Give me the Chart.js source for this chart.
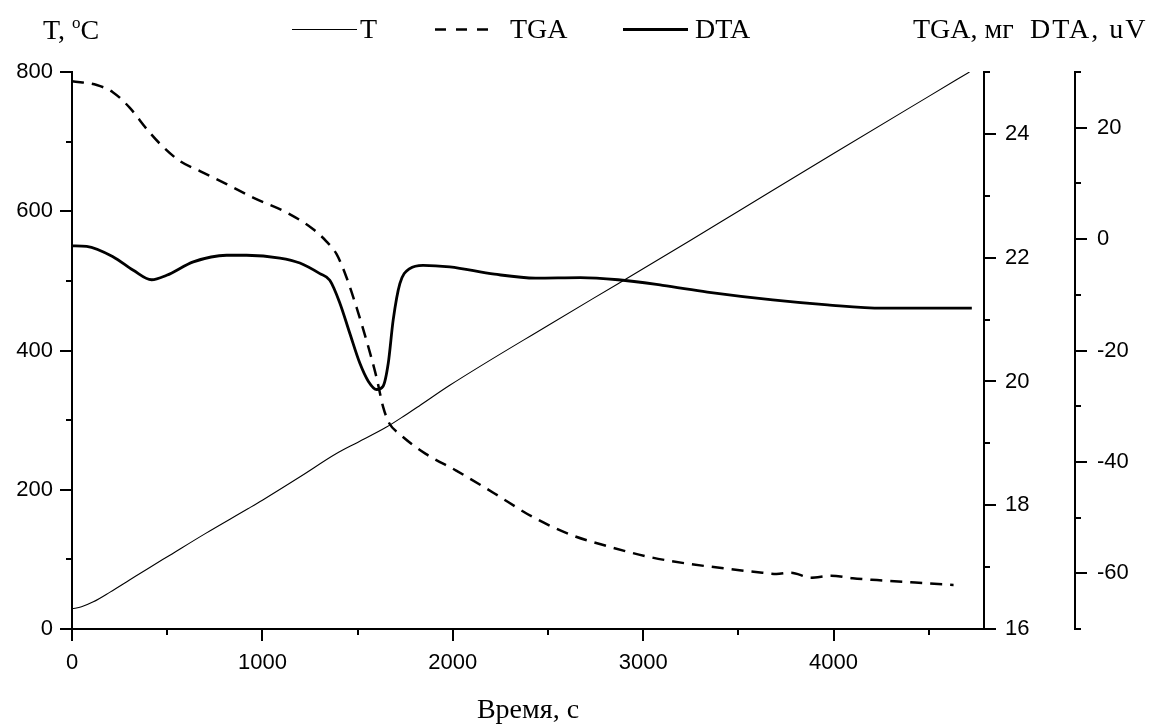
<!DOCTYPE html>
<html>
<head>
<meta charset="utf-8">
<script src="https://cdn.jsdelivr.net/npm/chart.js@4.4.1/dist/chart.umd.min.js"></script>
<style>
html,body{margin:0;padding:0;background:#fff;}
#c{display:block;width:1152px;height:724px;}
</style>
</head>
<body>
<canvas id="c" width="1152" height="724"></canvas>
<script>
// ---- data (time in s) ----
const tTime   = [0, 50, 112, 200, 300, 400, 514, 700, 926, 1000, 1200, 1389, 1500, 1652, 1750, 1827, 1984, 2500, 2868, 3247, 3500, 4000, 4500, 4714];
const tValues = [29, 32, 39, 53, 70, 87, 106, 137, 173, 185, 219, 252, 268, 290, 307, 321, 350, 436, 496, 558, 600, 683, 765, 800];

const tgaTime   = [0, 130, 216, 304, 392, 462, 567, 672, 812, 951, 1127, 1267, 1337, 1389, 1442, 1494, 1547, 1599, 1634, 1667, 1717, 1858, 2018, 2219, 2420, 2622, 2822, 3023, 3224, 3425, 3626, 3700, 3776, 3880, 3987, 4100, 4228, 4429, 4630];
const tgaValues = [24.85, 24.79, 24.67, 24.42, 24.08, 23.84, 23.56, 23.40, 23.19, 22.97, 22.73, 22.46, 22.26, 22.06, 21.68, 21.20, 20.66, 20.07, 19.59, 19.32, 19.16, 18.83, 18.56, 18.19, 17.81, 17.52, 17.33, 17.17, 17.06, 16.98, 16.91, 16.89, 16.91, 16.83, 16.86, 16.82, 16.79, 16.75, 16.71];

const dtaTime   = [0, 77, 217, 322, 418, 497, 637, 812, 917, 1092, 1197, 1302, 1354, 1407, 1459, 1512, 1556, 1600, 1634, 1661, 1687, 1722, 1774, 1844, 1984, 2219, 2435, 2670, 2868, 3102, 3337, 3680, 3968, 4257, 4473, 4726];
const dtaValues = [-1.2, -1.3, -3.2, -5.6, -7.3, -6.5, -4.1, -2.9, -2.9, -3.4, -4.3, -6.2, -7.4, -11.5, -16.9, -22.3, -25.5, -27.0, -26.4, -22.3, -14.5, -8.0, -5.3, -4.7, -5.0, -6.3, -7.0, -6.9, -7.3, -8.3, -9.5, -10.9, -11.8, -12.4, -12.4, -12.4];

const seriesLabels = ['T', 'TGA', 'DTA'];

// tick positions (all tick marks) and which of them carry labels
const xTicks    = [0, 500, 1000, 1500, 2000, 2500, 3000, 3500, 4000, 4500];
const xLabels   = [0, 1000, 2000, 3000, 4000];
const tTicks    = [0, 100, 200, 300, 400, 500, 600, 700, 800];
const tLabels   = [0, 200, 400, 600, 800];
const tgaTicks  = [16, 17, 18, 19, 20, 21, 22, 23, 24, 25];
const tgaLabels = [16, 18, 20, 22, 24];
const dtaTicks  = [-70, -60, -50, -40, -30, -20, -10, 0, 10, 20, 30];
const dtaLabels = [-60, -40, -20, 0, 20];

const toPoints = (xs, ys) => xs.map((x, i) => ({ x: x, y: ys[i] }));

const tickFont = { family: '"Liberation Sans", Arial, sans-serif', size: 22 };
const serif = '"Liberation Serif", "Times New Roman", serif';

const labelSets = { x: xLabels, yT: tLabels, yTGA: tgaLabels, yDTA: dtaLabels };
const isLabelled = (id, v) => labelSets[id].some(l => Math.abs(l - v) < 1e-9);
const setTicks = list => scale => { scale.ticks = list.map(v => ({ value: v })); };
const labelCb = id => v => isLabelled(id, v) ? String(v) : '';

// tick marks drawn from the scales (long for labelled, short for minor)
const tickMarks = {
  id: 'tickMarks',
  afterDraw(chart) {
    const ctx = chart.ctx;
    ctx.save();
    ctx.strokeStyle = '#000';
    ctx.lineWidth = 2;
    ['x', 'yT', 'yTGA', 'yDTA'].forEach(id => {
      const s = chart.scales[id];
      s.ticks.forEach(t => {
        const len = isLabelled(id, t.value) ? 12 : 6;
        const p = Math.round(s.getPixelForValue(t.value));
        ctx.beginPath();
        if (id === 'x') { ctx.moveTo(p, s.top); ctx.lineTo(p, s.top + len); }
        else if (s.position === 'left') { ctx.moveTo(s.right, p); ctx.lineTo(s.right - len, p); }
        else { ctx.moveTo(s.left, p); ctx.lineTo(s.left + len, p); }
        ctx.stroke();
      });
    });
    ctx.restore();
  }
};

// legend and axis titles
const legendLayout = [
  { x0: 292, x1: 357, tx: 360 },
  { x0: 435, x1: 488, tx: 510, dash: [11, 10] },
  { x0: 623, x1: 688, tx: 695 }
];
const annotations = {
  id: 'annotations',
  afterDraw(chart) {
    const ctx = chart.ctx;
    ctx.save();
    ctx.fillStyle = '#000';
    ctx.textBaseline = 'alphabetic';
    chart.data.datasets.forEach((ds, i) => {
      const L = legendLayout[i];
      ctx.save();
      ctx.strokeStyle = ds.borderColor;
      ctx.lineWidth = ds.borderWidth;
      ctx.setLineDash(L.dash || []);
      ctx.beginPath();
      ctx.moveTo(L.x0, 29.5);
      ctx.lineTo(L.x1, 29.5);
      ctx.stroke();
      ctx.restore();
      ctx.font = '28px ' + serif;
      ctx.textAlign = 'left';
      ctx.fillText(ds.label, L.tx, 38);
    });
    ctx.font = '28px ' + serif;
    ctx.textAlign = 'left';
    let x = 43;
    ctx.fillText('T, ', x, 39);
    x += ctx.measureText('T, ').width;
    ctx.font = '17px ' + serif;
    ctx.fillText('o', x, 28);
    x += ctx.measureText('o').width;
    ctx.font = '28px ' + serif;
    ctx.fillText('C', x, 39);
    ctx.fillText('TGA, мг', 913, 38);
    ctx.save();
    if ('letterSpacing' in ctx) ctx.letterSpacing = '2px';
    ctx.fillText('DTA, uV', 1030, 38);
    ctx.restore();
    ctx.textAlign = 'center';
    const ca = chart.chartArea;
    ctx.fillText('Время, с', (ca.left + ca.right) / 2, 718);
    ctx.restore();
  }
};

const axisGrid = { drawOnChartArea: false, drawTicks: true, tickLength: 12, color: 'rgba(0,0,0,0)' };
const axisBorder = { display: true, color: '#000', width: 2 };

new Chart(document.getElementById('c'), {
  type: 'line',
  data: {
    datasets: [
      { label: seriesLabels[0], data: toPoints(tTime, tValues), yAxisID: 'yT',
        borderColor: '#000', borderWidth: 1.1, cubicInterpolationMode: 'monotone' },
      { label: seriesLabels[1], data: toPoints(tgaTime, tgaValues), yAxisID: 'yTGA',
        borderColor: '#000', borderWidth: 2.5, borderDash: [12, 8], cubicInterpolationMode: 'monotone' },
      { label: seriesLabels[2], data: toPoints(dtaTime, dtaValues), yAxisID: 'yDTA',
        borderColor: '#000', borderWidth: 2.8, cubicInterpolationMode: 'monotone' }
    ]
  },
  options: {
    responsive: false,
    animation: false,
    devicePixelRatio: 1,
    layout: { padding: { top: 72, left: 0, right: 0, bottom: 0 } },
    elements: { point: { radius: 0, hoverRadius: 0 } },
    plugins: { legend: { display: false }, tooltip: { enabled: false }, title: { display: false } },
    scales: {
      x: {
        type: 'linear', position: 'bottom', min: 0, max: 4790,
        afterBuildTicks: setTicks(xTicks),
        ticks: { autoSkip: false, maxRotation: 0, padding: 9, color: '#000', font: tickFont, callback: labelCb('x') },
        grid: axisGrid, border: axisBorder,
        afterFit: s => { s.height = 95; }
      },
      yT: {
        type: 'linear', position: 'left', min: 0, max: 800,
        afterBuildTicks: setTicks(tTicks),
        ticks: { autoSkip: false, padding: 7, color: '#000', font: tickFont, callback: labelCb('yT') },
        grid: axisGrid, border: axisBorder,
        afterFit: s => { s.width = 72; }
      },
      yTGA: {
        type: 'linear', position: 'right', weight: 0, min: 16, max: 25,
        afterBuildTicks: setTicks(tgaTicks),
        ticks: { autoSkip: false, padding: 9, color: '#000', font: tickFont, callback: labelCb('yTGA') },
        grid: axisGrid, border: axisBorder,
        afterFit: s => { s.width = 91; }
      },
      yDTA: {
        type: 'linear', position: 'right', weight: 1, min: -70, max: 30,
        afterBuildTicks: setTicks(dtaTicks),
        ticks: { autoSkip: false, padding: 10, color: '#000', font: tickFont, callback: labelCb('yDTA') },
        grid: axisGrid, border: axisBorder,
        afterFit: s => { s.width = 77; }
      }
    }
  },
  plugins: [tickMarks, annotations]
});
</script>
</body>
</html>
